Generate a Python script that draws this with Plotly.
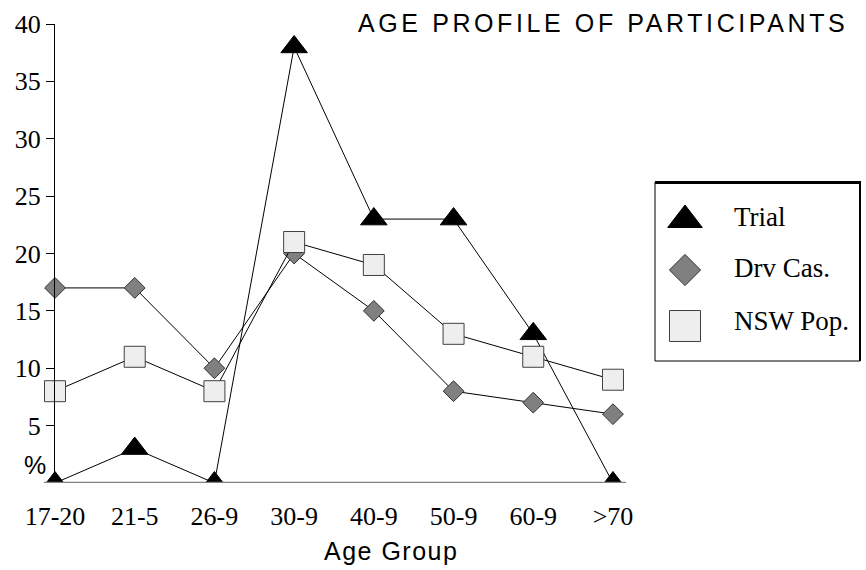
import plotly.graph_objects as go

categories = ["17-20", "21-5", "26-9", "30-9", "40-9", "50-9", "60-9", ">70"]
trial = [0, 3, 0, 38, 23, 23, 13, 0]
drv_cas = [17, 17, 10, 20, 15, 8, 7, 6]
nsw_pop = [8, 11, 8, 21, 19, 13, 11, 9]
series_names = ["Trial", "Drv Cas.", "NSW Pop."]
y_ticks = [5, 10, 15, 20, 25, 30, 35, 40]

W, H = 866, 570
SERIF = "Liberation Serif, Times New Roman, serif"
SANS = "Liberation Sans, Arial, sans-serif"

def px_x(p):
    return p / W

def px_y(p):
    return (H - p) / H

styles = [
    dict(symbol="triangle-up", size=23, color="black", line=dict(color="black", width=1)),
    dict(symbol="diamond", size=16, color="#808080", line=dict(color="#303030", width=1)),
    dict(symbol="square", size=21, color="#eeeeee", line=dict(color="#404040", width=1)),
]
legend_styles = [
    dict(symbol="triangle-up", size=30, color="black", line=dict(color="black", width=1)),
    dict(symbol="diamond", size=24, color="#808080", line=dict(color="#303030", width=1)),
    dict(symbol="square", size=31, color="#eeeeee", line=dict(color="#404040", width=1)),
]

fig = go.Figure()
for name, vals, st in zip(series_names, [trial, drv_cas, nsw_pop], styles):
    fig.add_trace(go.Scatter(
        x=categories, y=vals, name=name, mode="lines+markers",
        line=dict(color="black", width=1), marker=st,
        cliponaxis=True, showlegend=False, xaxis="x", yaxis="y",
    ))

# manual legend on its own small axes
leg_y = [38, 88, 144]
for name, st, ly in zip(series_names, legend_styles, leg_y):
    fig.add_trace(go.Scatter(
        x=[30], y=[ly], mode="markers", marker=st, showlegend=False,
        xaxis="x2", yaxis="y2", cliponaxis=False, hoverinfo="skip",
    ))

# plot geometry in pixels
unit = 79.71
x0_px = 55
left_px, right_px = 30, 625
top_px, bottom_px = 24, 483

fig.update_layout(
    width=W, height=H,
    margin=dict(l=0, r=0, t=0, b=0),
    paper_bgcolor="white", plot_bgcolor="white",
    xaxis=dict(
        type="category", domain=[px_x(left_px), px_x(right_px)],
        range=[(left_px - x0_px) / unit, (right_px - x0_px) / unit],
        showline=False, showgrid=False, zeroline=False, ticks="",
        tickfont=dict(family=SERIF, size=26, color="black"),
        anchor="y", automargin=False, ticklabelstandoff=15,
    ),
    yaxis=dict(
        domain=[px_y(bottom_px), px_y(top_px)], range=[0, 40],
        tickvals=y_ticks, ticktext=[str(v) for v in y_ticks],
        ticks="outside", ticklen=8, tickcolor="black", tickwidth=1,
        showline=True, linecolor="black", linewidth=1,
        showgrid=False, zeroline=False,
        tickfont=dict(family=SERIF, size=26, color="black"),
        anchor="free", position=px_x(54), automargin=False,
    ),
    xaxis2=dict(domain=[px_x(655), px_x(860)], range=[0, 205], visible=False,
                anchor="y2", fixedrange=True),
    yaxis2=dict(domain=[px_y(361), px_y(182)], range=[179, 0], visible=False,
                anchor="x2", fixedrange=True),
    showlegend=False,
)

shapes = [
    # x axis line (gray, thicker)
    dict(type="line", xref="paper", yref="y", x0=px_x(44), x1=px_x(626), y0=0, y1=0,
         line=dict(color="#808080", width=2.5)),
    # legend box
    dict(type="rect", xref="paper", yref="paper", x0=px_x(655), x1=px_x(860),
         y0=px_y(361), y1=px_y(182), line=dict(color="black", width=1)),
    dict(type="line", xref="paper", yref="paper", x0=px_x(655), x1=px_x(861),
         y0=px_y(182.5), y1=px_y(182.5), line=dict(color="black", width=3)),
    dict(type="line", xref="paper", yref="paper", x0=px_x(860), x1=px_x(860),
         y0=px_y(361), y1=px_y(182), line=dict(color="black", width=2)),
]
fig.update_layout(shapes=shapes)

annotations = [
    dict(text='<span style="letter-spacing:3.6px">AGE PROFILE OF PARTICIPANTS</span>',
         xref="paper", yref="paper", x=px_x(356), y=px_y(23), xanchor="left", yanchor="middle",
         showarrow=False, font=dict(family=SANS, size=25, color="black")),
    dict(text='<span style="letter-spacing:1.5px">Age Group</span>',
         xref="paper", yref="paper", x=px_x(391), y=px_y(551), xanchor="center", yanchor="middle",
         showarrow=False, font=dict(family=SANS, size=25, color="black")),
    dict(text="%", xref="paper", yref="paper", x=px_x(35), y=px_y(465), xanchor="center",
         yanchor="middle", showarrow=False, font=dict(family=SANS, size=25, color="black")),
]
for name, ly in zip(series_names, [35, 86, 139]):
    annotations.append(dict(text=name, xref="x2", yref="y2", x=77, y=ly, xanchor="left",
                            yanchor="middle", showarrow=False,
                            font=dict(family=SERIF, size=27, color="black")))
fig.update_layout(annotations=annotations)

fig.write_html("out.html")
